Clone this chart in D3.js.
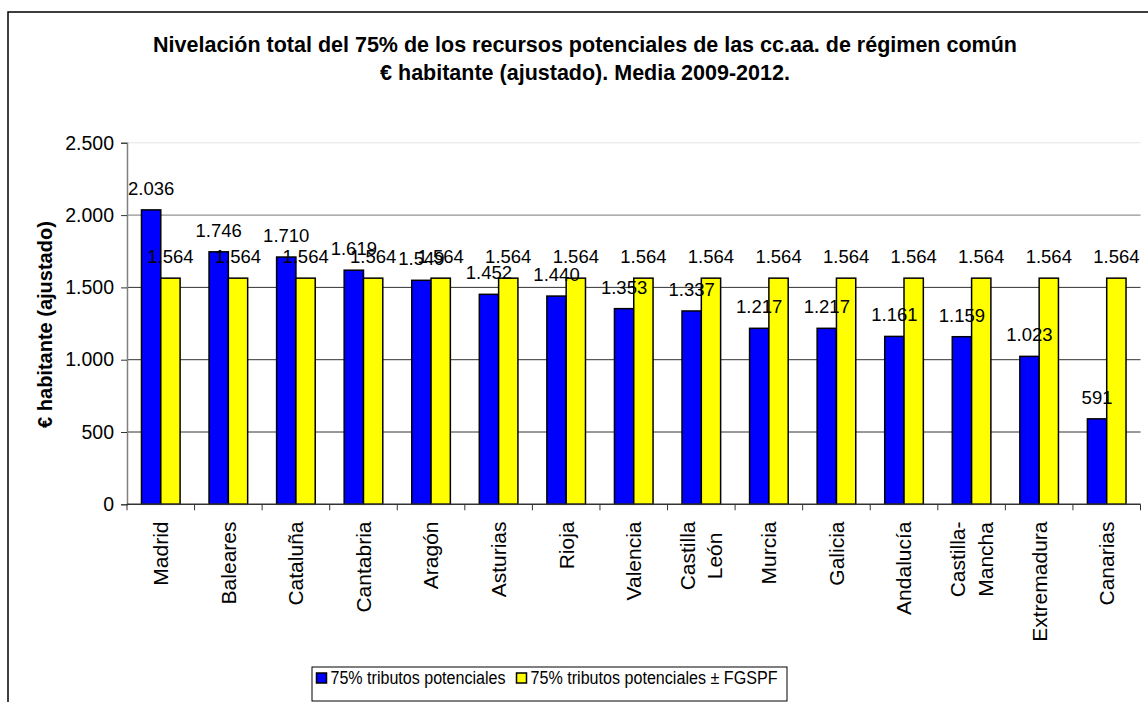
<!DOCTYPE html>
<html>
<head>
<meta charset="utf-8">
<script src="https://cdn.jsdelivr.net/npm/d3@7"></script>
<style>
  body { margin: 0; background: #fff; }
  svg { display: block; font-family: "Liberation Sans", Arial, sans-serif; }
</style>
</head>
<body>
<svg id="chart" width="1148" height="702"></svg>
<script>
// datos
const categories = ["Madrid", "Baleares", "Cataluña", "Cantabria", "Aragón", "Asturias", "Rioja", "Valencia",
  "Castilla\nLeón", "Murcia", "Galicia", "Andalucía", "Castilla-\nMancha", "Extremadura", "Canarias"];
const seriesNames = ["75% tributos potenciales", "75% tributos potenciales ± FGSPF"];
const tributos = [2036, 1746, 1710, 1619, 1549, 1452, 1440, 1353, 1337, 1217, 1217, 1161, 1159, 1023, 591];
const tributosFgspf = [1564, 1564, 1564, 1564, 1564, 1564, 1564, 1564, 1564, 1564, 1564, 1564, 1564, 1564, 1564];
const yTicks = [0, 500, 1000, 1500, 2000, 2500];
const colors = ["#0000ff", "#ffff00"];

const titleLines = ["Nivelación total del 75% de los recursos potenciales de las cc.aa. de régimen común",
  "€ habitante (ajustado). Media 2009-2012."];
const yTitle = "€ habitante (ajustado)";

const es = d3.formatLocale({ decimal: ",", thousands: ".", grouping: [3], currency: ["", " €"] });
const fmt = es.format(",d");

const svg = d3.select("#chart");

// marco exterior (se sale por la derecha y por abajo)
svg.append("rect")
    .attr("x", 8).attr("y", 12)
    .attr("width", 1200).attr("height", 800)
    .attr("fill", "none").attr("stroke", "#000").attr("stroke-width", 1.5);

const plotL = 127, plotR = 1140.5, plotT = 142.8, plotB = 504.3;

const x0 = d3.scaleBand().domain(d3.range(categories.length)).range([plotL, plotR]).padding(0);
const x1 = d3.scaleBand().domain([0, 1]).range([0, x0.bandwidth()]).paddingInner(0).paddingOuter(0.75);
const y = d3.scaleLinear().domain([0, 2500]).range([plotB, plotT]);

// líneas de división
svg.append("g")
    .selectAll("line")
    .data(yTicks.filter(d => d > 0))
    .enter().append("line")
    .attr("x1", plotL).attr("x2", plotR)
    .attr("y1", d => y(d)).attr("y2", d => y(d))
    .attr("stroke", d => d === 2500 ? "#e4e4e4" : (d === 2000 ? "#777" : "#333"))
    .attr("stroke-width", 1);

// eje Y
const yAxis = svg.append("g")
    .attr("transform", `translate(${plotL},0)`)
    .call(d3.axisLeft(y).tickValues(yTicks).tickFormat(fmt).tickSize(6).tickPadding(7));
yAxis.select(".domain").attr("stroke", "#808080").attr("stroke-width", 1.5);
yAxis.selectAll(".tick line").attr("stroke", "#333");
yAxis.selectAll("text").attr("font-size", 19.5).attr("fill", "#000").attr("font-family", null);

// barras
const data = categories.map((c, i) => ({ i, vals: [tributos[i], tributosFgspf[i]] }));
const groups = svg.append("g")
    .selectAll("g")
    .data(data)
    .enter().append("g")
    .attr("transform", d => `translate(${x0(d.i)},0)`);

groups.selectAll("rect")
    .data(d => d.vals.map((v, s) => ({ v, s })))
    .enter().append("rect")
    .attr("x", d => x1(d.s))
    .attr("width", x1.bandwidth())
    .attr("y", d => y(d.v))
    .attr("height", d => plotB - y(d.v))
    .attr("fill", d => colors[d.s])
    .attr("stroke", "#000")
    .attr("stroke-width", 1.5);

// etiquetas de valores
groups.selectAll("text")
    .data(d => d.vals.map((v, s) => ({ v, s })))
    .enter().append("text")
    .attr("x", d => x1(d.s) + x1.bandwidth() / 2)
    .attr("y", d => y(d.v) - 15)
    .attr("text-anchor", "middle")
    .attr("font-size", 18.5)
    .text(d => fmt(d.v));

// eje X
const xAxis = svg.append("g")
    .attr("transform", `translate(0,${plotB})`);
xAxis.append("line")
    .attr("x1", plotL).attr("x2", plotR)
    .attr("stroke", "#333").attr("stroke-width", 1.5);
xAxis.selectAll(".tk")
    .data(d3.range(categories.length + 1))
    .enter().append("line")
    .attr("x1", i => plotL + i * x0.step()).attr("x2", i => plotL + i * x0.step())
    .attr("y1", 0).attr("y2", 6)
    .attr("stroke", "#333");

const lh = 27.6, labTop = 521.5;
categories.forEach((c, i) => {
    const lines = c.split("\n");
    const g = svg.append("g");
    const texts = lines.map((ln, k) => g.append("text")
        .attr("text-anchor", "middle")
        .attr("font-size", 21)
        .attr("y", (k - (lines.length - 1) / 2) * lh)
        .attr("dy", "0.35em")
        .text(ln));
    const maxW = d3.max(texts, t => t.node().getComputedTextLength());
    g.attr("transform", `translate(${x0(i) + x0.bandwidth() / 2},${labTop + maxW / 2}) rotate(-90)`);
});

// título del eje Y
svg.append("text")
    .attr("transform", `translate(45,${(plotT + plotB) / 2 + 1}) rotate(-90)`)
    .attr("text-anchor", "middle")
    .attr("dy", "0.35em")
    .attr("font-size", 20)
    .attr("font-weight", "bold")
    .text(yTitle);

// título
svg.append("g").selectAll("text")
    .data(titleLines)
    .enter().append("text")
    .attr("x", 585)
    .attr("y", (d, i) => 52 + i * 28)
    .attr("text-anchor", "middle")
    .attr("font-size", 21.5)
    .attr("font-weight", "bold")
    .text(d => d);

// leyenda (el texto va algo estrechado, como en el original)
const lg = svg.append("g");
lg.append("rect")
    .attr("x", 312).attr("y", 667).attr("width", 475).attr("height", 34)
    .attr("fill", "#fff").attr("stroke", "#000").attr("stroke-width", 1);
const legX = [316.5, 516.5];
const legW = [175, 247];
seriesNames.forEach((name, s) => {
    lg.append("rect")
        .attr("x", legX[s]).attr("y", 673).attr("width", 10).attr("height", 10)
        .attr("fill", colors[s]).attr("stroke", "#000").attr("stroke-width", 1.5);
    lg.append("text")
        .attr("x", legX[s] + 14).attr("y", 684)
        .attr("font-size", 18)
        .attr("textLength", legW[s])
        .attr("lengthAdjust", "spacingAndGlyphs")
        .text(name);
});
</script>
</body>
</html>
